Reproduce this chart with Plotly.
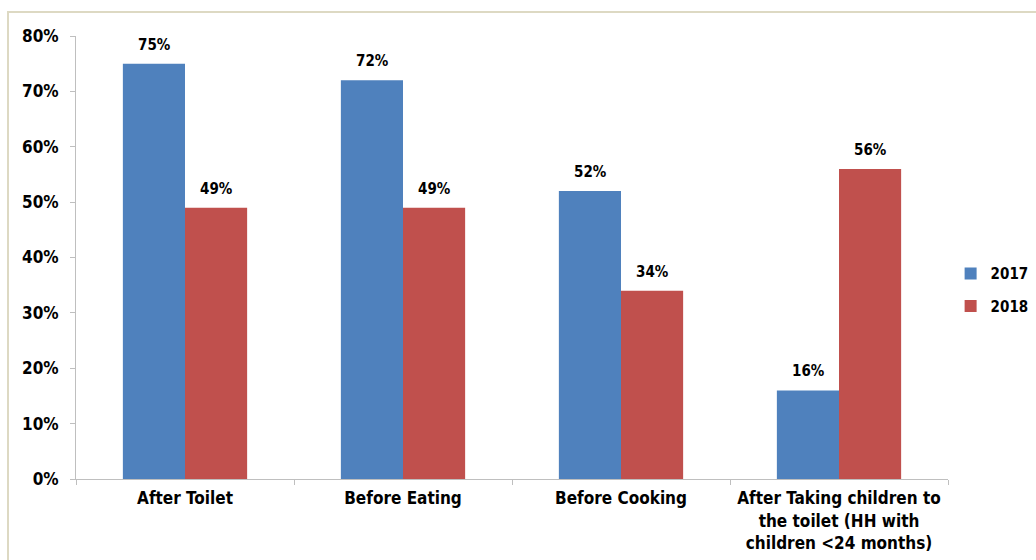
import plotly.graph_objects as go

categories = [
    "After Toilet",
    "Before Eating",
    "Before Cooking",
    "After Taking children to<br>the toilet (HH with<br>children &lt;24 months)",
]
values_2017 = [75, 72, 52, 16]
values_2018 = [49, 49, 34, 56]
y_ticks = [0, 10, 20, 30, 40, 50, 60, 70, 80]

FONT = "DejaVu Sans Condensed, DejaVu Sans"
BLUE = "#4F81BD"
RED = "#C0504D"
BAR_PX = 62  # width of one bar in pixels, used to centre value labels

series = [("2017", values_2017, BLUE, -1), ("2018", values_2018, RED, 1)]

fig = go.Figure()
annotations = []
for name, vals, color, side in series:
    fig.add_trace(go.Bar(
        name=name,
        legendgroup=name,
        x=categories,
        y=vals,
        marker=dict(color=color, line=dict(width=0)),
    ))
    for cat, v in zip(categories, vals):
        annotations.append(dict(
            x=cat, y=v, xref="x", yref="y",
            text=f"<b>{v}%</b>", showarrow=False,
            xanchor="center", yanchor="bottom",
            xshift=side * BAR_PX / 2, yshift=8,
            font=dict(family=FONT, size=15, color="#000000"),
        ))

fig.update_layout(
    width=1036,
    height=560,
    margin=dict(l=76, r=88, t=36, b=81, autoexpand=False),
    paper_bgcolor="white",
    plot_bgcolor="white",
    barmode="group",
    bargap=0.43,
    bargroupgap=0,
    font=dict(family=FONT, color="#000000"),
    showlegend=True,
    legend=dict(
        x=1.003, y=0.427, xanchor="left", yanchor="middle",
        font=dict(family=FONT, size=15, color="#000000", weight="bold"),
        itemwidth=30, tracegroupgap=10,
        bgcolor="rgba(0,0,0,0)",
    ),
    xaxis=dict(
        showline=True, linecolor="#BFBFBF", linewidth=1,
        ticks="outside", tickson="boundaries", ticklen=5, tickcolor="#BFBFBF",
        tickfont=dict(family=FONT, size=17, color="#000000", weight="bold"),
        ticklabelstandoff=4,
        showgrid=False,
    ),
    yaxis=dict(
        range=[0, 80],
        tickvals=y_ticks,
        ticktext=[f"{v}%" for v in y_ticks],
        showline=True, linecolor="#BFBFBF", linewidth=1,
        ticks="outside", ticklen=5, tickcolor="#BFBFBF",
        tickfont=dict(family=FONT, size=17, color="#000000", weight="bold"),
        ticklabelstandoff=8,
        showgrid=False, zeroline=False,
    ),
    annotations=annotations,
    shapes=[dict(
        type="rect", xref="paper", yref="paper",
        x0=(8 - 76) / 872, x1=1.3, y0=-0.4, y1=(479 - 12) / 443,
        line=dict(color="#DDD9C3", width=2), fillcolor="rgba(0,0,0,0)",
        layer="below",
    )],
)

fig.write_html("out.html")
